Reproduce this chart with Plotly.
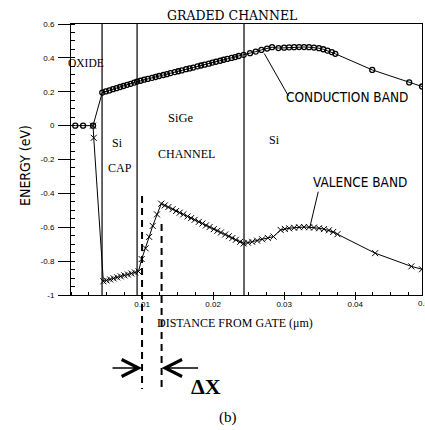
import plotly.graph_objects as go

# ---------------- data ----------------
COND_X = [0.0006, 0.0017, 0.0031,
          0.0044, 0.0049, 0.0054, 0.0059, 0.0064, 0.0069, 0.0074, 0.0079, 0.0084, 0.0089, 0.0093,
          0.0098, 0.0103, 0.0108, 0.0114, 0.0119, 0.0124, 0.0130, 0.0135, 0.0140, 0.0146,
          0.0151, 0.0156, 0.0162, 0.0167, 0.0172, 0.0178, 0.0183, 0.0188, 0.0194, 0.0199,
          0.0204, 0.0210, 0.0215, 0.0220, 0.0226, 0.0231, 0.0236, 0.0243,
          0.0252, 0.0260, 0.0268, 0.0276, 0.0283, 0.0292, 0.0300, 0.0307, 0.0314, 0.0321,
          0.0328, 0.0335, 0.0342, 0.0349, 0.0355, 0.0361, 0.0367, 0.0372, 0.0424, 0.0476, 0.0494]
COND_Y = [0.0, 0.0, 0.0,
          0.195, 0.202, 0.208, 0.215, 0.221, 0.228, 0.234, 0.241, 0.247, 0.254, 0.260,
          0.265, 0.271, 0.276, 0.282, 0.287, 0.293, 0.299, 0.304, 0.310, 0.316,
          0.321, 0.326, 0.333, 0.338, 0.343, 0.350, 0.355, 0.360, 0.366, 0.372,
          0.377, 0.383, 0.389, 0.394, 0.400, 0.405, 0.411, 0.418,
          0.428, 0.437, 0.447, 0.455, 0.463, 0.458, 0.460, 0.462, 0.463, 0.464,
          0.464, 0.463, 0.461, 0.457, 0.451, 0.443, 0.434, 0.424, 0.329, 0.255, 0.231]

VAL_X = [0.0031, 0.0032,
         0.00455, 0.0050, 0.0055, 0.0060, 0.0065, 0.0070, 0.0075, 0.0080, 0.0085, 0.0090, 0.0095,
         0.00995, 0.0105, 0.0110, 0.0115, 0.0121, 0.0127,
         0.0132, 0.0137, 0.0143, 0.0148, 0.0153, 0.0158, 0.0164, 0.0169, 0.0174, 0.0180,
         0.0185, 0.0190, 0.0195, 0.0201, 0.0206, 0.0211, 0.0217, 0.0222, 0.0227, 0.0232,
         0.0238, 0.0243,
         0.0249, 0.0255, 0.0262, 0.0269, 0.0277, 0.0285, 0.0295, 0.0301, 0.0307, 0.0314,
         0.0321, 0.0328, 0.0335, 0.0342, 0.0349, 0.0356, 0.0363, 0.0369, 0.0375,
         0.0428, 0.0479, 0.0494]
VAL_Y = [0.0, -0.072,
         -0.919, -0.914, -0.908, -0.902, -0.896, -0.890, -0.884, -0.879, -0.873, -0.867, -0.861,
         -0.788, -0.724, -0.657, -0.592, -0.524, -0.461,
         -0.471, -0.481, -0.493, -0.504, -0.514, -0.524, -0.536, -0.546, -0.556, -0.568,
         -0.578, -0.589, -0.599, -0.611, -0.621, -0.631, -0.643, -0.653, -0.664, -0.674,
         -0.686, -0.696,
         -0.691, -0.686, -0.679, -0.671, -0.663, -0.655, -0.616, -0.610, -0.606, -0.603,
         -0.600, -0.599, -0.600, -0.602, -0.606, -0.611, -0.618, -0.628, -0.641,
         -0.753, -0.831, -0.848]

REGION_BOUNDARIES = [0.00437, 0.0093, 0.02435]   # oxide|Si cap|SiGe|Si
DELTA_X_BOUNDS = [0.0100, 0.01275]               # dashed lines marking delta X

X_TICKS = [0.01, 0.02, 0.03, 0.04]
X_TICK_TEXT = ["0.01", "0.02", "0.03", "0.04"]
Y_TICKS = [-1, -0.8, -0.6, -0.4, -0.2, 0, 0.2, 0.4, 0.6]
Y_TICK_TEXT = ["-1", "-0.8", "-0.6", "-0.4", "-0.2", "0", "0.2", "0.4", "0.6"]

X_RANGE = [0, 0.0494]
Y_RANGE = [-1, 0.6]

SERIF = "Liberation Serif, Times New Roman, serif"
NARROW = "Liberation Sans Narrow, Arial Narrow, DejaVu Sans Condensed, sans-serif"
SANS = "Liberation Sans, Arial, sans-serif"

# plot-area geometry in pixels (used to convert label positions to paper units)
L, R, T, B = 71, 422, 24, 295
def px(xp):
    return (xp - L) / (R - L)
def py(yp):
    return (B - yp) / (B - T)

fig = go.Figure()

fig.add_trace(go.Scatter(
    x=COND_X, y=COND_Y, mode="lines+markers",
    line=dict(color="black", width=1),
    marker=dict(symbol="circle-open", size=5, color="black", line=dict(width=1.3)),
    showlegend=False, hoverinfo="skip"))

fig.add_trace(go.Scatter(
    x=VAL_X, y=VAL_Y, mode="lines+markers",
    line=dict(color="black", width=1),
    marker=dict(symbol="x-thin-open", size=6, color="black", line=dict(width=1, color="black")),
    showlegend=False, hoverinfo="skip"))

shapes = []
for xb in REGION_BOUNDARIES:
    shapes.append(dict(type="line", xref="x", yref="paper", x0=xb, x1=xb, y0=0, y1=1,
                       line=dict(color="black", width=1.2)))
DASH_TOPS = [py(196), py(224)]
for xb, top in zip(DELTA_X_BOUNDS, DASH_TOPS):
    shapes.append(dict(type="line", xref="x", yref="paper", x0=xb, x1=xb, y0=top, y1=py(389),
                       line=dict(color="black", width=2, dash="7px,5px")))

annotations = []
def txt(text, x, y, size, family=SERIF, xref="x", yref="y", **kw):
    annotations.append(dict(text=text, x=x, y=y, xref=xref, yref=yref, showarrow=False,
                            xanchor="center", yanchor="middle",
                            font=dict(size=size, family=family, color="black"), **kw))

txt("OXIDE", 0.00215, 0.37, 11.5)
txt("Si", 0.0065, -0.10, 12)
txt("CAP", 0.0069, -0.253, 12)
txt("SiGe", 0.01535, 0.047, 12.5)
txt("CHANNEL", 0.0163, -0.17, 12)
txt("Si", 0.0286, -0.082, 12)
txt("CONDUCTION BAND", 0.0389, 0.17, 13.5, family=NARROW)
txt("VALENCE BAND", 0.0407, -0.33, 13.5, family=NARROW)
txt("GRADED CHANNEL", px(232), py(15), 12.5, family="DejaVu Serif, serif",
    xref="paper", yref="paper")
txt("DISTANCE FROM GATE (μm)", px(235), py(323), 12, xref="paper", yref="paper")
txt("ENERGY (eV)", px(25), py(166), 14, family=NARROW, xref="paper", yref="paper",
    textangle=-90)
txt("<b>ΔX</b>", px(206), py(386), 22, xref="paper", yref="paper")
txt("(b)", px(228), py(417), 15, xref="paper", yref="paper")
txt("0.05", px(426), py(303), 8, family=SANS, xref="paper", yref="paper")

# leader lines from band curves to their labels
annotations.append(dict(x=0.0306, y=0.175, xref="x", yref="y", ax=-25, ay=-44,
                        showarrow=True, arrowhead=0, arrowwidth=1, arrowcolor="black", text=""))
annotations.append(dict(x=0.0348, y=-0.39, xref="x", yref="y", ax=-9, ay=38,
                        showarrow=True, arrowhead=0, arrowwidth=1, arrowcolor="black", text=""))

# delta X arrows
ARROW_Y = py(368)
annotations.append(dict(x=DELTA_X_BOUNDS[0], y=ARROW_Y, xref="x", yref="paper", ax=-31, ay=0,
                        showarrow=True, arrowhead=5, arrowsize=2.2, arrowwidth=1.5,
                        arrowcolor="black", text=""))
annotations.append(dict(x=DELTA_X_BOUNDS[1], y=ARROW_Y, xref="x", yref="paper", ax=38, ay=0,
                        showarrow=True, arrowhead=5, arrowsize=2.2, arrowwidth=1.5,
                        arrowcolor="black", text=""))

fig.update_layout(
    width=425, height=430,
    margin=dict(l=L, r=425 - R, t=T, b=430 - B),
    paper_bgcolor="white", plot_bgcolor="white",
    shapes=shapes, annotations=annotations,
    xaxis=dict(range=X_RANGE, showgrid=False, zeroline=False,
               showline=True, linecolor="black", linewidth=1, mirror=True,
               tickmode="array", tickvals=X_TICKS, ticktext=X_TICK_TEXT,
               ticks="outside", ticklen=4, tickcolor="black", ticklabelstandoff=-3,
               tickfont=dict(size=8, family=SANS, color="black"),
               minor=dict(dtick=0.0025, tick0=0, ticks="inside", ticklen=3, tickcolor="black",
                          showgrid=False)),
    yaxis=dict(range=Y_RANGE, showgrid=False, zeroline=False,
               showline=True, linecolor="black", linewidth=1, mirror=True,
               tickmode="array", tickvals=Y_TICKS, ticktext=Y_TICK_TEXT,
               ticks="outside", ticklen=12, tickcolor="black", ticklabelstandoff=2,
               tickfont=dict(size=8, family=SANS, color="black"),
               minor=dict(dtick=0.05, tick0=0, ticks="inside", ticklen=4, tickcolor="black",
                          showgrid=False)),
)

fig.write_html("out.html")
